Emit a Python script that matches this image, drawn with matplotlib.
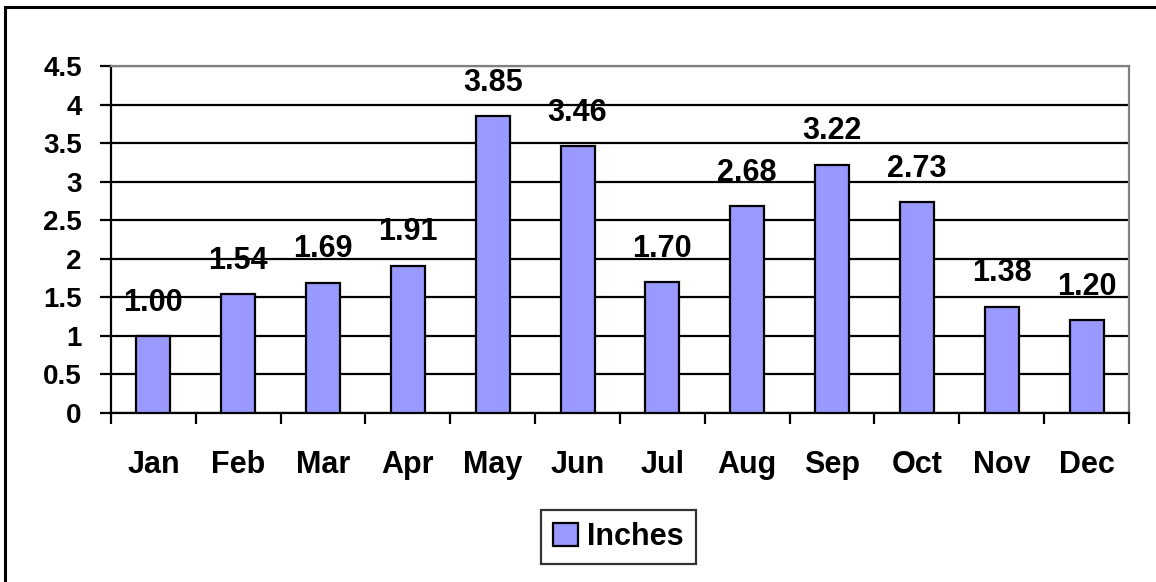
import numpy as np
import matplotlib.pyplot as plt
from matplotlib.patches import Rectangle

# Monthly averages
months = ["Jan", "Feb", "Mar", "Apr", "May", "Jun",
          "Jul", "Aug", "Sep", "Oct", "Nov", "Dec"]
inches = [1.00, 1.54, 1.69, 1.91, 3.85, 3.46,
          1.70, 2.68, 3.22, 2.73, 1.38, 1.20]
y_ticks = [0, 0.5, 1, 1.5, 2, 2.5, 3, 3.5, 4, 4.5]
y_tick_labels = ["0", "0.5", "1", "1.5", "2", "2.5", "3", "3.5", "4", "4.5"]
series_name = "Inches"
caption = "Figure 2.  Average Monthly Rainfall by Month"

plt.rcParams['font.family'] = ['Liberation Sans', 'DejaVu Sans']

fig = plt.figure(figsize=(11.56, 5.82), dpi=100)
ax = fig.add_axes([0.096, 0.2904, 0.8806, 0.5962])

# outer chart frame (only top and left edges fall inside the image)
fig.patches.append(Rectangle((0.004, -0.2), 1.2, 1.188, transform=fig.transFigure,
                             fill=False, edgecolor='black', linewidth=2.2))

# caption cut off at the top of the picture, only descenders show
fig.text(0.005, 1 + 7 / 582, caption, family='Liberation Serif', fontweight='bold',
         fontsize=16, va='baseline', ha='left')

x = np.arange(len(months))
bars = ax.bar(x, inches, width=0.4, color='#9999FF', edgecolor='black',
              linewidth=1.6, label=series_name, zorder=3)

# data labels
for xi, v in zip(x, inches):
    ax.annotate(f"{v:.2f}", (xi, v), xytext=(0, 24), textcoords='offset points',
                ha='center', va='center', fontsize=22, fontweight='bold')

ax.set_xlim(-0.5, len(months) - 0.5)
ax.set_ylim(0, 4.5)
ax.set_yticks(y_ticks)
ax.set_yticklabels(y_tick_labels, fontsize=20, fontweight='bold')
ax.yaxis.grid(True, color='black', linewidth=1.6, zorder=0)
ax.set_axisbelow(True)

ax.set_xticks(x)
ax.set_xticklabels(months, fontsize=22, fontweight='bold')
ax.set_xticks(np.arange(-0.5, len(months)), minor=True)
ax.tick_params(axis='x', which='major', length=0, pad=27)
ax.tick_params(axis='x', which='minor', length=8, width=1.6, direction='out')
ax.tick_params(axis='y', length=8, width=1.6, pad=13)

for side in ['top', 'right']:
    ax.spines[side].set_color('#808080')
    ax.spines[side].set_linewidth(1.6)
for side in ['left', 'bottom']:
    ax.spines[side].set_color('black')
    ax.spines[side].set_linewidth(1.6)

leg = fig.legend(handles=[bars], labels=[series_name], loc='center',
                 bbox_to_anchor=(0.535, 0.077), frameon=True,
                 fancybox=False, edgecolor='black', handlelength=0.8,
                 handleheight=0.8, handletextpad=0.3, borderpad=0.4,
                 prop={'weight': 'bold', 'size': 22})
leg.get_frame().set_linewidth(1.6)

fig.savefig("out.png", dpi=100)
